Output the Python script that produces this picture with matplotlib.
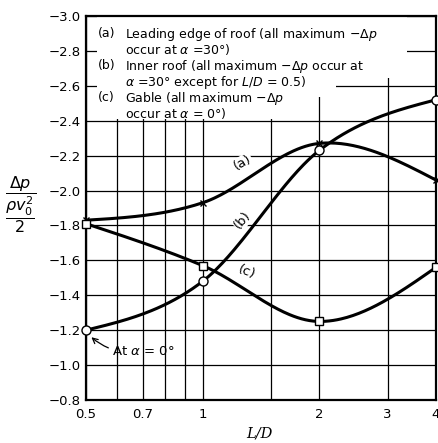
import matplotlib
matplotlib.use("Agg")
import matplotlib.pyplot as plt
from matplotlib.patches import Rectangle
from matplotlib.ticker import FixedLocator, FuncFormatter, NullFormatter
import numpy as np

plt.rcParams['font.family'] = ['DejaVu Sans']
plt.rcParams['mathtext.fontset'] = 'dejavusans'

# L/D values where the pressure coefficients were measured
ld = [0.5, 1, 2, 4]

# (a) leading edge of roof, (b) inner roof, (c) gable
leading_edge = [-1.83, -1.93, -2.27, -2.06]
inner_roof = [-1.20, -1.48, -2.23, -2.52]
gable = [-1.81, -1.57, -1.25, -1.56]

major_ticks = [0.5, 0.7, 1, 2, 3, 4]
minor_ticks = [0.6, 0.8, 0.9, 1.5]
y_ticks = [-3.0, -2.8, -2.6, -2.4, -2.2, -2.0, -1.8, -1.6, -1.4, -1.2, -1.0, -0.8]


def smooth(xs, ys, n=60):
    # cubic hermite curve through the points, in log-x space
    u = np.log2(xs)
    y = np.asarray(ys, dtype=float)
    d = np.diff(y) / np.diff(u)
    m = np.zeros_like(y)
    m[1:-1] = (y[2:] - y[:-2]) / (u[2:] - u[:-2])
    m[0] = 1.5 * d[0] - 0.5 * m[1]
    m[-1] = 1.5 * d[-1] - 0.5 * m[-2]
    xu, yv = [], []
    for i in range(len(u) - 1):
        h = u[i + 1] - u[i]
        t = np.linspace(0, 1, n)
        h00 = 2 * t**3 - 3 * t**2 + 1
        h10 = t**3 - 2 * t**2 + t
        h01 = -2 * t**3 + 3 * t**2
        h11 = t**3 - t**2
        xu.append(u[i] + t * h)
        yv.append(h00 * y[i] + h10 * h * m[i] + h01 * y[i + 1] + h11 * h * m[i + 1])
    return 2 ** np.concatenate(xu), np.concatenate(yv)


fig = plt.figure(figsize=(4.39, 4.43), dpi=100)
ax = fig.add_axes([0.1959, 0.0971, 0.7973, 0.8668])
ax.set_xscale('log')
ax.set_xlim(0.5, 4)
ax.set_ylim(-0.8, -3.0)

ax.xaxis.set_major_locator(FixedLocator(major_ticks))
ax.xaxis.set_minor_locator(FixedLocator(minor_ticks))
ax.xaxis.set_major_formatter(FuncFormatter(lambda v, p: f'{v:g}'))
ax.xaxis.set_minor_formatter(NullFormatter())
ax.yaxis.set_major_locator(FixedLocator(y_ticks))
ax.yaxis.set_major_formatter(FuncFormatter(lambda v, p: '\u2212' + f'{abs(v):.1f}'))
ax.tick_params(axis='both', which='both', length=0, labelsize=9.5)
ax.tick_params(axis='x', pad=6)
ax.tick_params(axis='y', pad=4)

ax.set_axisbelow(True)
ax.grid(True, which='both', color='black', linewidth=0.9)
for s in ax.spines.values():
    s.set_linewidth(1.6)

# white block behind the key text
for x0, y0, w, h in [(0.031, 0.839, 0.886, 0.158),
                     (0.031, 0.789, 0.683, 0.052),
                     (0.031, 0.733, 0.626, 0.058)]:
    ax.add_patch(Rectangle((x0, y0), w, h, transform=ax.transAxes,
                           facecolor='white', edgecolor='none', zorder=1))

# curves
for ys, mk, ms in [(leading_edge, 'x', 5), (inner_roof, 'o', 6.5), (gable, 's', 5.5)]:
    sx, sy = smooth(ld, ys)
    ax.plot(sx, sy, color='black', linewidth=2.2, zorder=3)
    ax.plot(ld, ys, linestyle='none', marker=mk, markersize=ms, color='black',
            markerfacecolor='white', markeredgewidth=1.0, zorder=4, clip_on=False)

ax.text(1.27, -2.16, '(a)', rotation=30, ha='center', va='center', fontsize=9.5,
        bbox=dict(facecolor='white', edgecolor='none', pad=0.5), zorder=5)
ax.text(1.27, -1.83, '(b)', rotation=50, ha='center', va='center', fontsize=9.5,
        bbox=dict(facecolor='white', edgecolor='none', pad=0.5), zorder=5)
ax.text(1.30, -1.53, '(c)', rotation=-22, ha='center', va='center', fontsize=9.5,
        bbox=dict(facecolor='white', edgecolor='none', pad=0.5), zorder=5)

# key text
key = [
    (0.958, '(a)', r'Leading edge of roof (all maximum $-\Delta p$'),
    (0.917, '', r'occur at $\alpha$ =30°)'),
    (0.874, '(b)', r'Inner roof (all maximum $-\Delta p$ occur at'),
    (0.833, '', r'$\alpha$ =30° except for $L/D$ = 0.5)'),
    (0.791, '(c)', r'Gable (all maximum $-\Delta p$'),
    (0.750, '', r'occur at $\alpha$ = 0°)'),
]
for y, tag, line in key:
    if tag:
        ax.text(0.034, y, tag, transform=ax.transAxes, ha='left',
                va='center_baseline', fontsize=9, zorder=5)
    ax.text(0.111, y, line, transform=ax.transAxes, ha='left',
            va='center_baseline', fontsize=9, zorder=5)

ax.annotate(r'At $\alpha$ = 0°', xy=(0.51, -1.17), xytext=(0.585, -1.08),
            ha='left', va='center', fontsize=9.5, zorder=5,
            arrowprops=dict(arrowstyle='->', color='black', linewidth=0.9,
                            connectionstyle='arc3,rad=-0.25', shrinkA=1, shrinkB=2))

fig.text(0.048, 0.537, r'$\dfrac{\Delta p}{\dfrac{\rho v_0^2}{2}}$',
         ha='center', va='center', fontsize=11.5)
fig.text(0.592, 0.022, 'L/D', family='DejaVu Serif', style='italic',
         ha='center', va='center', fontsize=10.5)

fig.savefig('out.png', dpi=100)
